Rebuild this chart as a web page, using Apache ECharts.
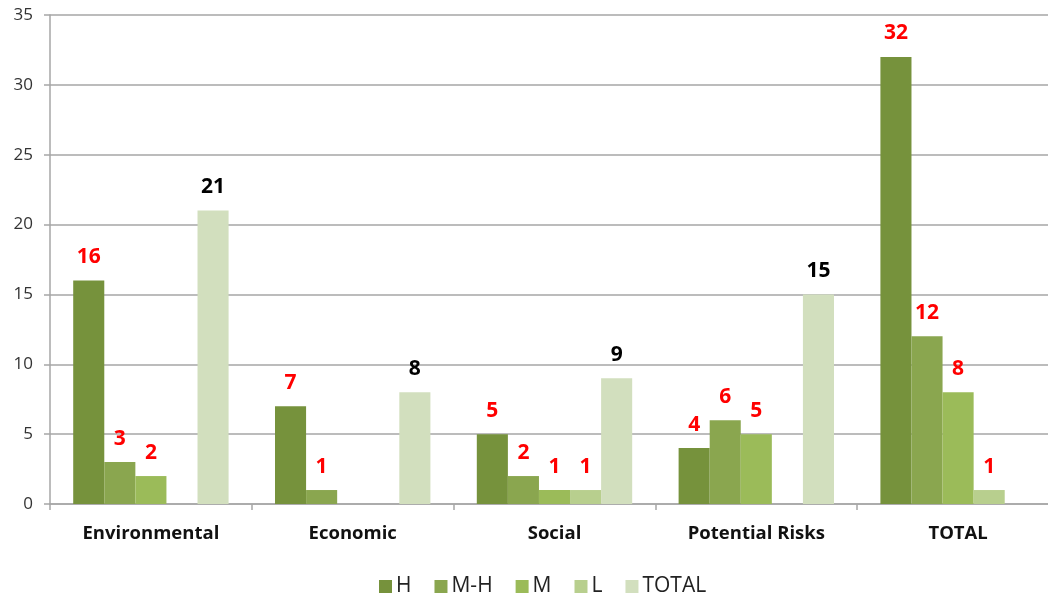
<!DOCTYPE html>
<html><head><meta charset="utf-8">
<script src="https://cdn.jsdelivr.net/npm/echarts@6/dist/echarts.min.js"></script>
<style>html,body{margin:0;padding:0;background:#fff}#c{width:1048px;height:598px}</style>
</head><body><div id="c"></div>
<script>
const categories = ['Environmental', 'Economic', 'Social', 'Potential Risks', 'TOTAL'];
const seriesNames = ['H', 'M-H', 'M', 'L', 'TOTAL'];
const H = [16, 7, 5, 4, 32];
const MH = [3, 1, 2, 6, 12];
const M = [2, null, 1, 5, 8];
const L = [null, null, 1, null, 1];
const TOTAL = [21, 8, 9, 15, null];
const yTicks = [0, 5, 10, 15, 20, 25, 30, 35];

const colors = ['#76923C', '#8AA64F', '#9BBB59', '#B8CF8E', '#D2DFBE'];
const labelColors = ['#FF0000', '#FF0000', '#FF0000', '#FF0000', '#000000'];
const values = [H, MH, M, L, TOTAL];
const font = '"Open Sans", "Noto Sans", sans-serif';

const chart = echarts.init(document.getElementById('c'));
chart.setOption({
  animation: false,
  color: colors,
  grid: { left: 50, width: 1009, top: 15, height: 489, containLabel: false, outerBoundsMode: 'none' },
  legend: {
    top: 571, left: 374, itemWidth: 13, itemHeight: 13, itemGap: 23,
    icon: 'rect',
    textStyle: { fontFamily: font, fontSize: 21, color: '#222', padding: [0, 0, 0, -1] },
    data: seriesNames
  },
  xAxis: {
    type: 'category', data: categories,
    axisLine: { lineStyle: { color: '#A6A6A6', width: 1.5 } },
    axisTick: { show: true, length: 6, lineStyle: { color: '#A6A6A6', width: 1.5 } },
    axisLabel: { fontFamily: font, fontSize: 18.5, fontWeight: 'bold', color: '#111', margin: 20 }
  },
  yAxis: {
    type: 'value', min: yTicks[0], max: yTicks[yTicks.length - 1], interval: 5,
    axisLine: { show: true, lineStyle: { color: '#A6A6A6', width: 1.5 } },
    axisTick: { show: true, length: 6, lineStyle: { color: '#A6A6A6', width: 1.5 } },
    splitLine: { lineStyle: { color: '#A6A6A6', width: 1.5 } },
    axisLabel: { fontFamily: font, fontSize: 17, color: '#333', margin: 17 }
  },
  series: seriesNames.map((n, i) => ({
    name: n, type: 'bar', data: values[i],
    barGap: '0%', barCategoryGap: '23%',
    itemStyle: { color: colors[i] },
    label: {
      show: true, position: 'top', distance: 13,
      color: labelColors[i], fontFamily: font, fontSize: 21, fontWeight: 'bold'
    }
  }))
});
</script></body></html>
